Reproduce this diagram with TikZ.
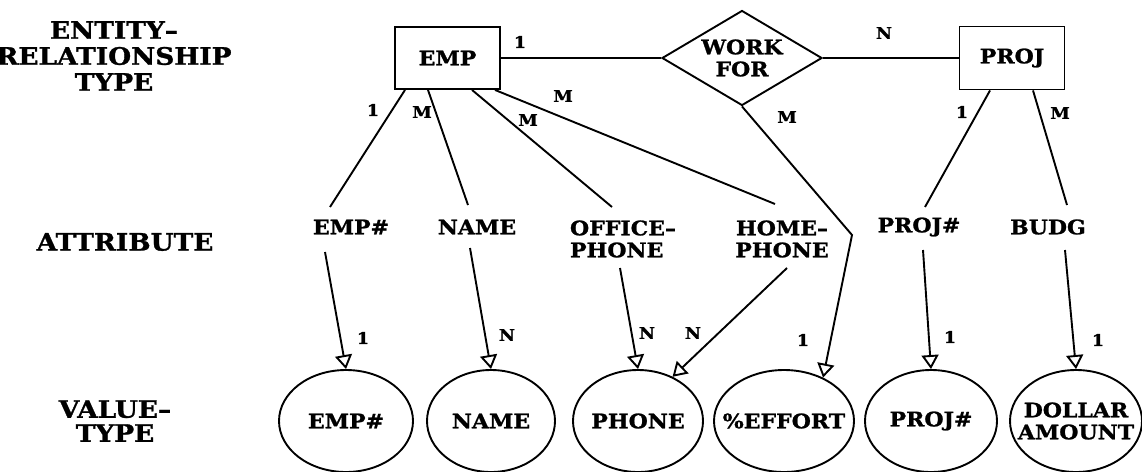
\documentclass[tikz,border=0pt]{standalone}
\usepackage{fontspec}
\setmainfont{DejaVu Serif}[FakeStretch=1.1, BoldFeatures={FakeBold=1.2}]
\usetikzlibrary{shapes.geometric,arrows.meta,calc}
\begin{document}
\begin{tikzpicture}[x=1pt,y=-1pt, line width=1.9pt,
  bigfont/.style={font=\bfseries\fontsize{20}{22}\selectfont},
  ent/.style={draw, rectangle, minimum width=105pt, minimum height=62pt, inner sep=0pt, bigfont},
  rel/.style={draw, diamond, shape aspect=1.68, minimum width=160pt, minimum height=95pt, inner sep=0pt, align=center, bigfont},
  attr/.style={inner sep=0pt, bigfont},
  val/.style={draw, ellipse, minimum height=102pt, inner xsep=-20pt, inner ysep=0pt, align=center, bigfont},
  card/.style={inner sep=0pt, font=\bfseries\fontsize{16}{16}\selectfont},
  side/.style={inner sep=0pt, align=center, font=\bfseries\fontsize{24}{26}\selectfont},
  vt/.style={-{Triangle[open,length=14pt,width=17pt]}},
  link/.style={line join=miter}
]
\useasboundingbox (0,0) rectangle (1142,471);
\fill[white] (0,0) rectangle (1142,471);

% row titles
\node[side] (t1) at (114,56) {ENTITY–\\RELATIONSHIP\\TYPE};
\node[side] (t2) at (125,242) {ATTRIBUTE};
\node[side, font=\bfseries\fontsize{24}{24}\selectfont] (t3) at (115,421) {VALUE–\\TYPE};

% entities and relationship
\node[ent] (emp) at (447.5,58) {EMP};
\node[rel] (wf) at (742,58) {WORK\\FOR};
\node[ent, minimum height=63pt] (proj) at (1012,58) {PROJ};

% attributes
\node[attr] (aemp) at (351,227) {EMP\#};
\node[attr] (aname) at (477,227) {NAME};
\node[attr, align=left] (aoff) at (623,239) {OFFICE–\\PHONE};
\node[attr, align=center] (ahome) at (782,239) {HOME–\\PHONE};
\node[attr] (aproj) at (919,227) {PROJ\#};
\node[attr] (abudg) at (1048,227) {BUDG};

% value types
\node[val, minimum width=134pt] (vemp) at (346,421) {EMP\#};
\node[val, minimum width=128pt] (vname) at (491,421) {NAME};
\node[val, minimum width=130pt] (vphone) at (638,421) {PHONE};
\node[val, minimum width=140pt] (veff) at (784,421) {\%EFFORT};
\node[val, minimum width=132pt] (vproj) at (931,421) {PROJ\#};
\node[val, minimum width=132pt] (vdol) at (1076,421) {DOLLAR\\AMOUNT};

% relationship connectors
\draw (emp.east) -- (wf.west);
\draw (wf.east) -- (proj.west);

% entity to attribute connectors
\draw ($(emp.south)+(-42.5,0)$) -- ($(aemp)+(-21,-20)$);
\draw ($(emp.south)+(-19.5,0)$) -- ($(aname)+(-9,-22)$);
\draw ($(emp.south)+(24.5,0)$) -- ($(aoff)+(-11,-32)$);
\draw ($(emp.south)+(47.5,0)$) -- ($(ahome)+(-7,-35)$);
\draw ($(proj.south)+(-22,0)$) -- ($(aproj)+(6,-20)$);
\draw ($(proj.south)+(21,0)$) -- ($(abudg)+(19,-22)$);

% relationship attribute
\coordinate (bend) at (852,235);
\draw[vt, link] (wf.south) -- (bend) -- (veff.48);

% attribute to value-type arrows
\draw[vt] ($(aemp)+(-26,25)$) -- (vemp.north);
\draw[vt] ($(aname)+(-7,21)$) -- (vname.north);
\draw[vt] ($(aoff)+(-3,29)$) -- (vphone.north);
\draw[vt] ($(ahome)+(5,29)$) -- (vphone.52);
\draw[vt] ($(aproj)+(4,23)$) -- (vproj.north);
\draw[vt] ($(abudg)+(17,23)$) -- (vdol.north);

% cardinalities
\node[card] (c1) at (520,42) {1};
\node[card] (c2) at (884,33) {N};
\node[card] (c3) at (373,110) {1};
\node[card] (c4) at (422,112) {M};
\node[card] (c5) at (528,120) {M};
\node[card] (c6) at (563,96) {M};
\node[card] (c7) at (787,117) {M};
\node[card] (c8) at (962,112) {1};
\node[card] (c9) at (1060,113) {M};
\node[card] (c10) at (363,338) {1};
\node[card] (c11) at (507,335) {N};
\node[card] (c12) at (647,333) {N};
\node[card] (c13) at (693,333) {N};
\node[card] (c14) at (803,340) {1};
\node[card] (c15) at (950,337) {1};
\node[card] (c16) at (1098,340) {1};
\end{tikzpicture}
\end{document}
